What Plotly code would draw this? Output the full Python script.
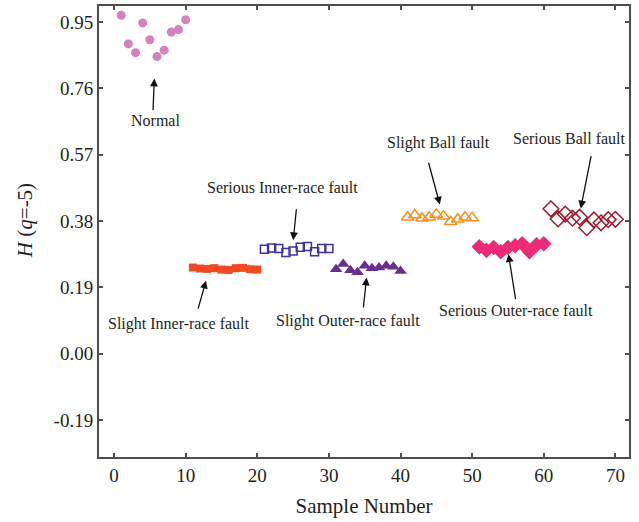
import plotly.graph_objects as go

# ---- data ----
normal_x = list(range(1, 11))
normal_y = [0.969, 0.887, 0.862, 0.947, 0.899, 0.851, 0.869, 0.921, 0.928, 0.956]

slight_inner_x = list(range(11, 21))
slight_inner_y = [0.247, 0.244, 0.243, 0.245, 0.241, 0.240, 0.245, 0.246, 0.242, 0.241]

serious_inner_x = list(range(21, 31))
serious_inner_y = [0.299, 0.303, 0.301, 0.290, 0.294, 0.305, 0.307, 0.292, 0.301, 0.301]

slight_outer_x = list(range(31, 41))
slight_outer_y = [0.242, 0.257, 0.239, 0.233, 0.252, 0.245, 0.247, 0.252, 0.249, 0.237]

slight_ball_x = list(range(41, 51))
slight_ball_y = [0.391, 0.397, 0.388, 0.391, 0.399, 0.394, 0.378, 0.385, 0.391, 0.389]

serious_outer_x = list(range(51, 61))
serious_outer_y = [0.306, 0.296, 0.304, 0.292, 0.304, 0.309, 0.315, 0.292, 0.312, 0.315]

serious_ball_x = list(range(61, 71))
serious_ball_y = [0.415, 0.386, 0.400, 0.388, 0.391, 0.361, 0.383, 0.375, 0.384, 0.385]

y_ticks = [-0.19, 0.00, 0.19, 0.38, 0.57, 0.76, 0.95]
y_ticktext = ["-0.19", "0.00", "0.19", "0.38", "0.57", "0.76", "0.95"]
x_ticks = [0, 10, 20, 30, 40, 50, 60, 70]

# label text, label position, arrow tail, arrow tip
labels = ["Normal", "Slight Inner-race fault", "Serious Inner-race fault",
          "Slight Outer-race fault", "Slight Ball fault", "Serious Ball fault",
          "Serious Outer-race fault"]
label_x = [5.72, 9.04, 23.58, 32.69, 45.25, 63.53, 56.19]
label_y = [0.667, 0.0855, 0.475, 0.095, 0.603, 0.617, 0.123]
tail_x = [5.44, 11.68, 25.48, 34.79, 43.86, 66.65, 56.10]
tail_y = [0.693, 0.125, 0.418, 0.128, 0.551, 0.570, 0.152]
tip_x = [5.62, 12.84, 25.02, 35.26, 45.49, 65.16, 55.07]
tip_y = [0.788, 0.209, 0.325, 0.218, 0.4275, 0.416, 0.285]

FONT = "Liberation Serif"
TXT = "#231f20"
AX = "#4d4d4d"

fig = go.Figure()

fig.add_trace(go.Scatter(x=normal_x, y=normal_y, mode="markers",
                         marker=dict(symbol="circle", size=9, color="#d680bd")))
fig.add_trace(go.Scatter(x=slight_inner_x, y=slight_inner_y, mode="markers",
                         marker=dict(symbol="square", size=8, color="#f04a24")))
fig.add_trace(go.Scatter(x=serious_inner_x, y=serious_inner_y, mode="markers",
                         marker=dict(symbol="square-open", size=8, color="#3d31a0",
                                     line=dict(width=1.5))))
fig.add_trace(go.Scatter(x=slight_outer_x, y=slight_outer_y, mode="markers",
                         marker=dict(symbol="triangle-up", size=11, color="#6a2d92")))
fig.add_trace(go.Scatter(x=slight_ball_x, y=slight_ball_y, mode="markers",
                         marker=dict(symbol="triangle-up-open", size=11, color="#f7901e",
                                     line=dict(width=1.5))))
fig.add_trace(go.Scatter(x=serious_outer_x, y=serious_outer_y, mode="markers",
                         marker=dict(symbol="diamond", size=12, color="#ec2a77")))
fig.add_trace(go.Scatter(x=serious_ball_x, y=serious_ball_y, mode="markers",
                         marker=dict(symbol="diamond-open", size=12, color="#a1192d",
                                     line=dict(width=1.5))))

annotations = []
for t, lx, ly in zip(labels, label_x, label_y):
    annotations.append(dict(x=lx, y=ly, xref="x", yref="y", text=t, showarrow=False,
                            font=dict(family=FONT, size=16, color=TXT)))
for ax_, ay_, x_, y_ in zip(tail_x, tail_y, tip_x, tip_y):
    annotations.append(dict(x=x_, y=y_, ax=ax_, ay=ay_, xref="x", yref="y",
                            axref="x", ayref="y", text="", showarrow=True,
                            arrowhead=2, arrowsize=1.2, arrowwidth=1.3,
                            arrowcolor="#111111"))
# y-axis title
annotations.append(dict(x=-0.1396, y=0.523, xref="paper", yref="paper",
                        text="<i>H</i> (<i>q</i>=-5)", textangle=-90, showarrow=False,
                        xanchor="center", yanchor="middle",
                        font=dict(family=FONT, size=21, color=TXT)))

fig.update_layout(
    width=639, height=522,
    margin=dict(l=99, r=10, t=4, b=65),
    paper_bgcolor="white", plot_bgcolor="white",
    showlegend=False,
    annotations=annotations,
    font=dict(family=FONT, color=TXT),
)

fig.update_xaxes(range=[-2.1, 71.9], tickvals=x_ticks, ticks="inside", ticklen=4,
                 tickwidth=1.5, tickcolor=AX, showline=True, linecolor=AX, linewidth=2,
                 mirror="ticks", showgrid=False, zeroline=False,
                 tickfont=dict(family=FONT, size=19, color=TXT),
                 title=dict(text="Sample Number", font=dict(family=FONT, size=21, color=TXT),
                            standoff=14))
fig.update_yaxes(range=[-0.2955, 0.9955], tickvals=y_ticks, ticktext=y_ticktext,
                 ticks="inside", ticklen=4, tickwidth=1.5, tickcolor=AX, showline=True,
                 linecolor=AX, linewidth=2, mirror="ticks", showgrid=False, zeroline=False,
                 tickfont=dict(family=FONT, size=19, color=TXT))

fig.write_html("out.html")
